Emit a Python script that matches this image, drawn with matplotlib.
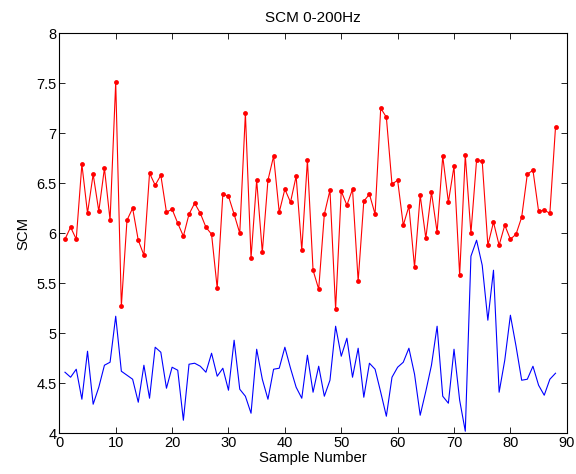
import numpy as np
import matplotlib
matplotlib.use("Agg")
import matplotlib.pyplot as plt

# SCM values per sample
samples = np.arange(1, 89)

scm_red = [5.94, 6.06, 5.94, 6.69, 6.20, 6.59, 6.22, 6.65, 6.13, 7.51,
           5.27, 6.13, 6.25, 5.93, 5.78, 6.60, 6.48, 6.58, 6.21, 6.24,
           6.10, 5.97, 6.19, 6.30, 6.20, 6.06, 5.99, 5.45, 6.39, 6.37,
           6.19, 6.00, 7.20, 5.75, 6.53, 5.81, 6.53, 6.77, 6.21, 6.44,
           6.31, 6.57, 5.83, 6.73, 5.63, 5.44, 6.19, 6.43, 5.24, 6.42,
           6.28, 6.44, 5.52, 6.32, 6.39, 6.19, 7.25, 7.16, 6.49, 6.53,
           6.08, 6.27, 5.66, 6.38, 5.95, 6.41, 6.01, 6.77, 6.31, 6.67,
           5.58, 6.78, 6.00, 6.73, 6.72, 5.88, 6.11, 5.88, 6.08, 5.94,
           5.99, 6.16, 6.59, 6.63, 6.22, 6.23, 6.20, 7.06]

scm_blue = [4.61, 4.56, 4.64, 4.34, 4.82, 4.29, 4.46, 4.68, 4.71, 5.17,
            4.62, 4.58, 4.54, 4.31, 4.68, 4.35, 4.86, 4.81, 4.45, 4.66,
            4.63, 4.13, 4.69, 4.70, 4.67, 4.61, 4.80, 4.57, 4.65, 4.43,
            4.93, 4.44, 4.37, 4.20, 4.84, 4.54, 4.34, 4.64, 4.65, 4.86,
            4.65, 4.46, 4.35, 4.78, 4.41, 4.67, 4.37, 4.53, 5.07, 4.77,
            4.95, 4.56, 4.85, 4.36, 4.70, 4.64, 4.41, 4.17, 4.56, 4.66,
            4.71, 4.85, 4.59, 4.18, 4.42, 4.68, 5.07, 4.37, 4.30, 4.84,
            4.33, 4.02, 5.77, 5.93, 5.68, 5.13, 5.63, 4.41, 4.73, 5.18,
            4.87, 4.53, 4.54, 4.67, 4.48, 4.38, 4.54, 4.60]

x_ticks = np.arange(0, 91, 10)
y_ticks = np.arange(4, 8.01, 0.5)
y_labels = ['4', '4.5', '5', '5.5', '6', '6.5', '7', '7.5', '8']

plt.rcParams['font.family'] = ['Liberation Sans', 'DejaVu Sans']

fig = plt.figure(figsize=(5.76, 4.74), dpi=100)
ax = fig.add_axes([0.103, 0.086, 0.881, 0.844])

ax.plot(samples, scm_red, color='red', linewidth=0.8, marker='o',
        markersize=3.5, markeredgewidth=0)
ax.plot(samples, scm_blue, color='blue', linewidth=0.8)

ax.set_xlim(0, 90)
ax.set_ylim(4, 8)
ax.set_xticks(x_ticks)
ax.set_yticks(y_ticks)
ax.set_yticklabels(y_labels)
ax.tick_params(direction='in', top=True, right=True, labelsize=10.5,
               length=4, width=0.6, pad=2)
for s in ax.spines.values():
    s.set_linewidth(0.8)

ax.set_xlabel('Sample Number', fontsize=10.7, labelpad=1)
ax.set_ylabel('SCM', fontsize=10.7, labelpad=4)
ax.set_title('SCM 0-200Hz', fontsize=11, pad=8)

fig.savefig('out.png', dpi=100)
